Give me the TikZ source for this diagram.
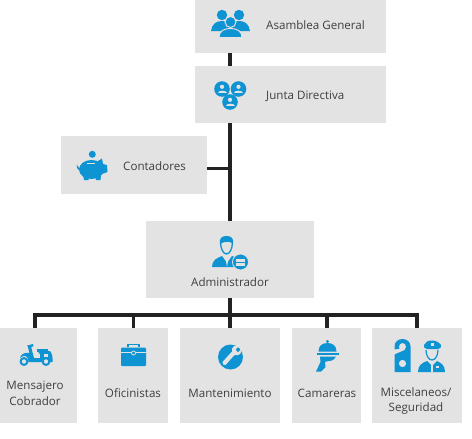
\documentclass[tikz,border=0pt]{standalone}
\usepackage{fontspec}
\setmainfont{Open Sans}
\definecolor{boxg}{HTML}{E3E3E3}
\definecolor{icb}{HTML}{0E93D3}
\definecolor{txtc}{HTML}{3F3F3F}
\definecolor{linec}{HTML}{222222}
\tikzset{
 orgbox/.style={fill=boxg,draw=none,inner sep=0pt,outer sep=0pt},
 lab/.style={text=txtc,inner sep=0pt,font=\fontsize{11.6}{15.8}\selectfont,align=center},
 link/.style={draw=linec,line width=3.4pt,line cap=butt},
 blue/.style={fill=icb,draw=none},
 cut/.style={fill=boxg,draw=none}
}
\newcommand{\orgbox}[5]{\node[orgbox,minimum width=#4-#2,minimum height=#5-#3] (#1) at ({(#2+#4)/2},{(#3+#5)/2}) {};}
\begin{document}
\begin{tikzpicture}[x=1pt,y=-1pt]
\useasboundingbox (0,0) rectangle (472,439);
\orgbox{asamblea}{195}{0}{386}{53}
\orgbox{junta}{195}{66}{386}{123}
\orgbox{contadores}{61}{136}{207}{194}
\orgbox{admin}{146}{221}{314}{298}
\orgbox{mensajero}{0}{328}{77}{423}
\orgbox{oficin}{98}{328}{168}{423}
\orgbox{manten}{180}{328}{280}{423}
\orgbox{camar}{292}{328}{361}{423}
\orgbox{misc}{372}{328}{462}{423}
% connector ends
\coordinate (a1) at (230,53); \coordinate (j0) at (230,66);
\coordinate (j1) at (230,123); \coordinate (ad0) at (230,221);
\coordinate (tc) at (230,168.5); \coordinate (c1) at (207,168.5);
\coordinate (ad1) at (230,298); \coordinate (mt0) at (230,328);
\coordinate (bl) at (35,315); \coordinate (br) at (417,315);
\coordinate (d1) at (35,328); \coordinate (d2) at (133.5,328);
\coordinate (d4) at (327,328); \coordinate (d5) at (417,328);
\draw[link] (a1) -- (j0);
\draw[link] (j1) -- (ad0);
\draw[link] (c1) -- (tc);
\draw[link] (ad1) -- (mt0);
\draw[link,line join=miter] (d1) -- (bl) -- (br) -- (d5);
\draw[link] (d2) -- (d2 |- bl);
\draw[link] (d4) -- (d4 |- bl);
% labels
\node[lab,anchor=west] (t1) at (266,25) {Asamblea General};
\node[lab,anchor=west] (t2) at (266,96) {Junta Directiva};
\node[lab,anchor=west] (t3) at (123,166) {Contadores};
\node[lab] (t4) at (230,282) {Administrador};
\node[lab] (t5) at (35,393) {Mensajero\\Cobrador};
\node[lab] (t6) at (133,393) {Oficinistas};
\node[lab] (t7) at (230,393) {Mantenimiento};
\node[lab] (t8) at (327,393) {Camareras};
\node[lab] (t9) at (416,401) {Miscelaneos/\\Seguridad};
% Asamblea icon
\fill[blue] (222,15) circle (5.2);
\fill[blue] (239,15) circle (5.2);
\fill[blue] (211,31) .. controls (212,24) and (216,21) .. (222,21) .. controls (228,21) and (232,24) .. (233,31) -- cycle;
\fill[blue] (228,31) .. controls (229,24) and (233,21) .. (239,21) .. controls (245,21) and (249,24) .. (250,31) -- cycle;
\fill[blue,draw=boxg,line width=1pt] (230.5,22) circle (5.5);
\fill[blue,draw=boxg,line width=1pt] (219,37.5) .. controls (219,31) and (224,28.5) .. (230.5,28.5) .. controls (237,28.5) and (242,31) .. (242,37.5) -- cycle;
% Junta icon
\foreach \cx/\cy in {222/89,238.5/89,230/102}{
 \fill[blue] (\cx,\cy) circle (7.8);
 \fill[boxg] (\cx,\cy-2.2) circle (2.1);
 \fill[boxg] (\cx-4.5,\cy+4) .. controls (\cx-4.5,\cy+0.6) and (\cx+4.5,\cy+0.6) .. (\cx+4.5,\cy+4) -- cycle;
}
% Piggy icon
\fill[blue] (92.3,154.3) circle (3.5);
\fill[blue] (91.5,169.5) ellipse (12.5 and 9.5);
\fill[blue] (77,164.5) .. controls (78,168) and (80,169) .. (83,168) -- (81,171) .. controls (78,170) and (76,168) .. (77,164.5) -- cycle;
\fill[blue] (98,161) -- (102,158.5) -- (103,164) -- (107,165) -- (107.5,172) -- (102,174) -- cycle;
\fill[blue] (83,175) -- (89,175) -- (88.5,180) -- (84,180) -- cycle;
\fill[blue] (95,175) -- (101,175) -- (100.5,180) -- (96,180) -- cycle;
\fill[boxg] (87,162.6) rectangle (95,164);
% Administrador icon
\fill[blue] (212,267) .. controls (212,260) and (217,258) .. (222,256) -- (227,263) -- (232,256) .. controls (235,257) and (238,258) .. (239,260) -- (239,267) -- cycle;
\fill[boxg] (225.5,258.5) -- (228.5,258.5) -- (227,267) -- cycle;
\draw[icb,line width=1.3pt] (220.6,243) .. controls (220.6,248) and (223,254) .. (226.5,254) .. controls (230,254) and (232.4,248) .. (232.4,243);
\fill[blue] (220,244) .. controls (219,238) and (222,236) .. (226.5,236) .. controls (231,236) and (234,238) .. (233,244) .. controls (231,241) and (224,241) .. (220,244) -- cycle;
\fill[blue,draw=boxg,line width=.8pt] (240.5,262) circle (8);
\fill[boxg] (236,259) rectangle (245,266);
\fill[blue] (236,262) rectangle (245,262.6);
\fill[blue] (239,258) rectangle (242,259);
% Scooter icon
\draw[icb,line width=2pt,fill=boxg] (24,361.5) circle (3.4);
\draw[icb,line width=2pt,fill=boxg] (46,361.5) circle (3.4);
\fill[blue] (28,347) -- (31,346.5) -- (34,358) -- (40,358) .. controls (41,354) and (39,352) .. (37,351) -- (50,351) .. controls (52.5,354) and (52.8,358) .. (52.5,362) -- (50,362) .. controls (50,356) and (42,356) .. (42,362) -- (28.5,362) .. controls (29,356) and (24,354) .. (20,358) .. controls (21,354) and (25,352) .. (29.5,353) -- cycle;
\fill[blue] (27,345.6) -- (33,344) -- (33.5,346) -- (29,348.5) -- cycle;
\fill[blue] (37,348.5) rectangle (48,351.5);
\fill[boxg] (44,353.5) rectangle (48,356.5);
% Briefcase icon
\draw[icb,line width=1.6pt] (128,347) -- (128,344.5) -- (139,344.5) -- (139,347);
\fill[blue,rounded corners=1pt] (121,347.5) rectangle (146,366);
\fill[boxg] (121,352.4) rectangle (146,353.2);
\fill[icb,draw=boxg,line width=.8pt] (133.5,353) circle (2);
% Wrench icon
\fill[blue] (230.5,357) circle (12.5);
\fill[boxg] (222.5,362) -- (232,351.5) .. controls (231,347) and (235,344.5) .. (239.5,345.5) -- (235.5,349.5) -- (238,352.5) -- (241.5,348.5) .. controls (242.5,353) and (239,356.5) .. (234.5,355) -- (225.5,365) .. controls (224,366) and (221.5,363.5) .. (222.5,362) -- cycle;
% Cloche icon
\fill[blue] (327.5,341.5) circle (1.7);
\fill[blue] (318.5,351.5) .. controls (318.5,346) and (322,343) .. (327.5,343) .. controls (333,343) and (336.5,346) .. (336.5,351.5) -- cycle;
\fill[blue] (316.5,352.5) rectangle (338.5,355);
\fill[blue] (320,356.5) -- (336,356.5) .. controls (334,360) and (332,361) .. (328,361) -- (325,362) -- (325.5,367) -- (321,371.5) -- (316,371.5) -- (320.5,362) -- cycle;
% Door hanger icon
\fill[blue] (394.5,372) -- (394.5,346.5) .. controls (394.5,342) and (398,339) .. (402.5,339) .. controls (407,339) and (410.5,342) .. (410.5,346.5) -- (410.5,372) -- cycle;
\fill[cut] (402.5,346.5) circle (3.4);
\fill[cut] (399.2,346.5) -- (405.9,346.5) -- (404.5,350) -- (394,354.5) -- (394,349.5) -- (399.5,349) -- cycle;
\fill[cut] (402.5,363.5) circle (3.6);
% Police icon
\fill[blue] (424,345) .. controls (426,339) and (437,339) .. (441,345) .. controls (442,347) and (440,349) .. (438,349) -- (427,349) .. controls (425,349) and (423,347) .. (424,345) -- cycle;
\fill[cut] (431,343) rectangle (433.5,345.5);
\draw[icb,line width=1.2pt] (426,350) .. controls (426,356) and (429,360) .. (432,360) .. controls (435,360) and (438,356) .. (438,350);
\fill[blue] (418,372) .. controls (418,365) and (422,363) .. (427,361) -- (432,366) -- (437,361) .. controls (441,363) and (445,365) .. (445,372) -- cycle;
\fill[boxg] (431.4,365) rectangle (432.6,372);
\fill[boxg] (436,366) rectangle (439,367.5);
\end{tikzpicture}
\end{document}
